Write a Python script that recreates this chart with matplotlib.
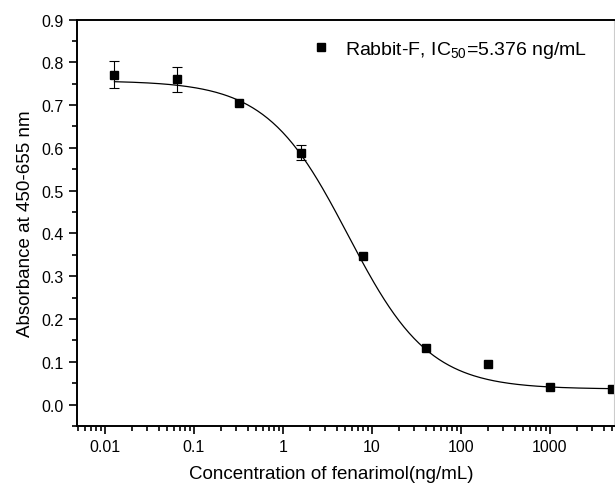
import numpy as np
import matplotlib
matplotlib.use('AGG')
import matplotlib.pyplot as plt
from matplotlib.ticker import MultipleLocator, LogLocator, NullFormatter, FixedLocator, FixedFormatter

plt.rcParams['font.family'] = ['Liberation Sans', 'DejaVu Sans']
plt.rcParams['mathtext.fontset'] = 'custom'
plt.rcParams['mathtext.rm'] = 'Liberation Sans'

# 5-fold dilution series, ng/mL
conc = [0.0128, 0.064, 0.32, 1.6, 8, 40, 200, 1000, 5000]
absorb = [0.771, 0.760, 0.706, 0.589, 0.347, 0.131, 0.095, 0.042, 0.036]
# error bars hidden under the marker are left at 0
err = [0.031, 0.030, 0.0, 0.017, 0.0, 0.0, 0.0, 0.0, 0.0]

# four-parameter logistic fit parameters
fit_top = 0.757
fit_bottom = 0.036
fit_ic50 = 5.376
fit_slope = 0.95

x_ticks = [0.01, 0.1, 1, 10, 100, 1000]
x_tick_labels = ['0.01', '0.1', '1', '10', '100', '1000']

fig = plt.figure(figsize=(6.15, 4.89), dpi=100)
ax = fig.add_axes([0.125, 0.127, 0.874, 0.831])

xs = np.logspace(np.log10(conc[0]), np.log10(conc[-1]), 300)
ys = fit_bottom + (fit_top - fit_bottom) / (1 + (xs / fit_ic50) ** fit_slope)
ax.plot(xs, ys, color='black', linewidth=0.9)

has_err = [i for i, e in enumerate(err) if e > 0]
ax.errorbar([conc[i] for i in has_err], [absorb[i] for i in has_err],
            yerr=[err[i] for i in has_err], fmt='none', ecolor='black',
            elinewidth=0.8, capsize=3.5, capthick=0.8)
ax.plot(conc, absorb, 's', color='black', markersize=6,
        label='Rabbit-F, IC$_{\\mathregular{50}}$=5.376 ng/mL')

ax.set_xscale('log')
ax.set_xlim(0.00484, 5300)
ax.set_ylim(-0.05, 0.9)

ax.xaxis.set_major_locator(FixedLocator(x_ticks))
ax.xaxis.set_major_formatter(FixedFormatter(x_tick_labels))
ax.xaxis.set_minor_locator(LogLocator(base=10, subs=np.arange(2, 10), numticks=20))
ax.xaxis.set_minor_formatter(NullFormatter())
ax.yaxis.set_major_locator(MultipleLocator(0.1))
ax.yaxis.set_minor_locator(MultipleLocator(0.05))
ax.yaxis.set_major_formatter(matplotlib.ticker.FormatStrFormatter('%.1f'))

ax.tick_params(which='both', direction='out', top=False, right=False,
               labelsize=11.5, width=1.2, colors='black')
ax.tick_params(which='major', length=6)
ax.tick_params(which='minor', length=3.5)

for s in ['left', 'bottom', 'top']:
    ax.spines[s].set_linewidth(1.4)
ax.spines['right'].set_linewidth(0.8)
ax.spines['right'].set_color('#cccccc')

ax.set_xlabel('Concentration of fenarimol(ng/mL)', fontsize=13.5)
ax.xaxis.set_label_coords(0.474, -0.096)
ax.set_ylabel('Absorbance at 450-655 nm', fontsize=13.5, labelpad=5)

ax.legend(loc='upper right', frameon=False, fontsize=14, handlelength=1.0,
          handletextpad=0.7, borderaxespad=0.6, bbox_to_anchor=(0.985, 1.0))

plt.savefig('out.png', dpi=100)
